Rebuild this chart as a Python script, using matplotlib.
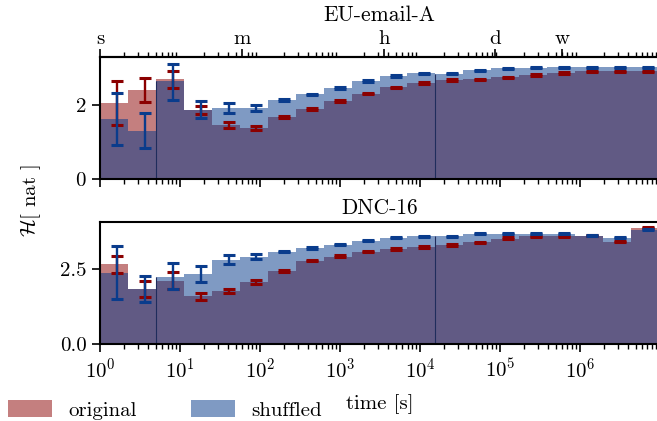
import numpy as np
import matplotlib
matplotlib.use('Agg')
import matplotlib.pyplot as plt
from matplotlib.ticker import LogLocator, NullFormatter, FixedLocator
from matplotlib.patches import Patch

plt.rcParams['font.family'] = 'serif'
plt.rcParams['font.serif'] = ['cmr10']
plt.rcParams['mathtext.fontset'] = 'cm'
plt.rcParams['axes.formatter.use_mathtext'] = True
plt.rcParams['font.size'] = 15
plt.rcParams['axes.unicode_minus'] = False

# --------------------------------------------------------------
# bins: 5^(k/2) in seconds
bin_edges = 5.0 ** (np.arange(21) / 2)

# EU-email-A
eu_orig = [2.07, 2.41, 2.71, 1.87, 1.47, 1.39, 1.68, 1.90, 2.12, 2.31,
           2.49, 2.60, 2.68, 2.71, 2.76, 2.82, 2.87, 2.93, 2.93, 2.93]
eu_shuf = [1.63, 1.31, 2.67, 1.87, 1.93, 1.93, 2.14, 2.31, 2.47, 2.66,
           2.79, 2.87, 2.85, 2.95, 3.01, 3.02, 3.03, 3.03, 3.03, 3.03]
eu_orig_lo = [1.47, 2.10, 2.48, 1.76, 1.38, 1.33, 1.66, 1.88, 2.10, 2.30,
              2.47, 2.58, 2.66, 2.68, 2.74, 2.80, 2.85, 2.91, 2.91, 2.91]
eu_orig_hi = [2.66, 2.73, 2.93, 1.99, 1.56, 1.43, 1.70, 1.92, 2.14, 2.33,
              2.51, 2.62, 2.70, 2.72, 2.78, 2.84, 2.89, 2.94, 2.94, 2.94]
eu_shuf_lo = [0.94, 0.84, 2.15, 1.65, 1.80, 1.85, 2.13, 2.28, 2.45, 2.64,
              2.78, 2.85, 2.84, 2.93, 2.99, 3.00, 3.02, 3.02, 3.02, 3.02]
eu_shuf_hi = [2.34, 1.79, 3.13, 2.12, 2.07, 2.00, 2.17, 2.32, 2.49, 2.68,
              2.81, 2.88, 2.87, 2.96, 3.02, 3.04, 3.05, 3.05, 3.05, 3.05]

# DNC-16
dnc_orig = [2.68, 1.84, 2.11, 1.59, 1.78, 2.08, 2.44, 2.78, 2.91, 3.08,
            3.16, 3.23, 3.28, 3.38, 3.51, 3.58, 3.61, 3.61, 3.41, 3.87]
dnc_shuf = [2.38, 1.84, 2.24, 2.33, 2.81, 2.91, 3.08, 3.20, 3.31, 3.44,
            3.53, 3.58, 3.58, 3.67, 3.67, 3.67, 3.67, 3.61, 3.54, 3.81]
dnc_orig_lo = [2.38, 1.58, 1.84, 1.47, 1.69, 2.00, 2.41, 2.75, 2.89, 3.05,
               3.14, 3.21, 3.26, 3.35, 3.49, 3.55, 3.57, 3.59, 3.38, 3.87]
dnc_orig_hi = [2.94, 2.09, 2.40, 1.69, 1.84, 2.13, 2.46, 2.81, 2.95, 3.11,
               3.20, 3.25, 3.32, 3.41, 3.55, 3.59, 3.61, 3.63, 3.42, 3.91]
dnc_shuf_lo = [1.49, 1.42, 1.82, 2.08, 2.67, 2.84, 3.06, 3.18, 3.29, 3.43,
               3.52, 3.57, 3.56, 3.65, 3.65, 3.65, 3.65, 3.59, 3.53, 3.80]
dnc_shuf_hi = [3.25, 2.28, 2.71, 2.59, 2.98, 3.01, 3.11, 3.23, 3.33, 3.47,
               3.56, 3.61, 3.60, 3.69, 3.69, 3.69, 3.69, 3.63, 3.57, 3.84]

time_ticks = [1, 60, 3600, 86400, 604800]
time_labels = ['s', 'm', 'h', 'd', 'w']
split_bins = [2, 12]   # bins where the thin vertical line sits (left edge)

c_orig = '#8b0000'
c_shuf = '#003789'
c_err_shuf = '#0a3c8c'
c_line = '#1f2c5c'
# --------------------------------------------------------------

fig = plt.figure(figsize=(6.57, 4.21), dpi=100)
ax1 = fig.add_axes([100 / 657, (421 - 179.3) / 421, 559 / 657, 122 / 421])
ax2 = fig.add_axes([100 / 657, (421 - 344.3) / 421, 559 / 657, 122 / 421])

centers = (bin_edges[:-1] + bin_edges[1:]) / 2


def panel(ax, orig, shuf, olo, ohi, slo, shi, ymax, title):
    orig = np.array(orig); shuf = np.array(shuf)
    ax.stairs(orig, bin_edges, fill=True, color=c_orig, alpha=0.5, lw=0)
    ax.stairs(shuf, bin_edges, fill=True, color=c_shuf, alpha=0.5, lw=0)
    for k in split_bins:
        ax.vlines(bin_edges[k], 0, shuf[k], color=c_line, lw=0.8)
    for lo, hi, col in [(olo, ohi, c_orig), (slo, shi, c_err_shuf)]:
        lo = np.array(lo); hi = np.array(hi)
        mid = (lo + hi) / 2
        ax.errorbar(centers, mid, yerr=(hi - lo) / 2, fmt='none', ecolor=col,
                    elinewidth=1.7, capsize=4.2, capthick=2.2)
    ax.set_xscale('log')
    ax.set_xlim(bin_edges[0], bin_edges[-1])
    ax.set_ylim(0, ymax)
    ax.set_title(title, fontsize=15.5)
    ax.xaxis.set_major_locator(LogLocator(base=10, numticks=20))
    ax.xaxis.set_minor_locator(LogLocator(base=10, subs=np.arange(2, 10), numticks=20))
    ax.xaxis.set_minor_formatter(NullFormatter())
    ax.tick_params(which='major', length=6, width=1.2)
    ax.tick_params(which='minor', length=3.5, width=1.0)
    for s in ax.spines.values():
        s.set_linewidth(1.5)


panel(ax1, eu_orig, eu_shuf, eu_orig_lo, eu_orig_hi, eu_shuf_lo, eu_shuf_hi, 3.3, 'EU-email-A')
panel(ax2, dnc_orig, dnc_shuf, dnc_orig_lo, dnc_orig_hi, dnc_shuf_lo, dnc_shuf_hi, 4.05, 'DNC-16')

ax1.set_yticks([0, 2])
ax1.tick_params(axis='x', labelbottom=False)
ax2.set_yticks([0.0, 2.5])
ax2.set_yticklabels(['0.0', '2.5'])
ax2.set_xlabel('time [s]', labelpad=9)

sec = ax1.secondary_xaxis('top')
sec.xaxis.set_major_locator(FixedLocator(time_ticks))
sec.set_xticklabels(time_labels)
sec.xaxis.set_minor_locator(LogLocator(base=10, subs=np.arange(2, 10), numticks=20))
sec.xaxis.set_minor_formatter(NullFormatter())
sec.tick_params(which='major', length=6, width=1.2, pad=1)
sec.tick_params(which='minor', length=3.5, width=1.0)
sec.spines['top'].set_linewidth(1.5)

fig.text(31 / 657, (421 - 201) / 421, r'$\mathcal{H}$[ nat ]', rotation=90,
         ha='center', va='center', fontsize=15)

handles = [Patch(color=c_orig, alpha=0.5, lw=0), Patch(color=c_shuf, alpha=0.5, lw=0)]
fig.legend(handles, ['original', 'shuffled'], loc='center left', ncol=2,
           bbox_to_anchor=(8 / 657, 11 / 421), frameon=False, borderaxespad=0,
           borderpad=0, handlelength=2.1, handleheight=0.9, handletextpad=0.8,
           columnspacing=2.6, fontsize=15)

fig.savefig('out.png', dpi=100)
